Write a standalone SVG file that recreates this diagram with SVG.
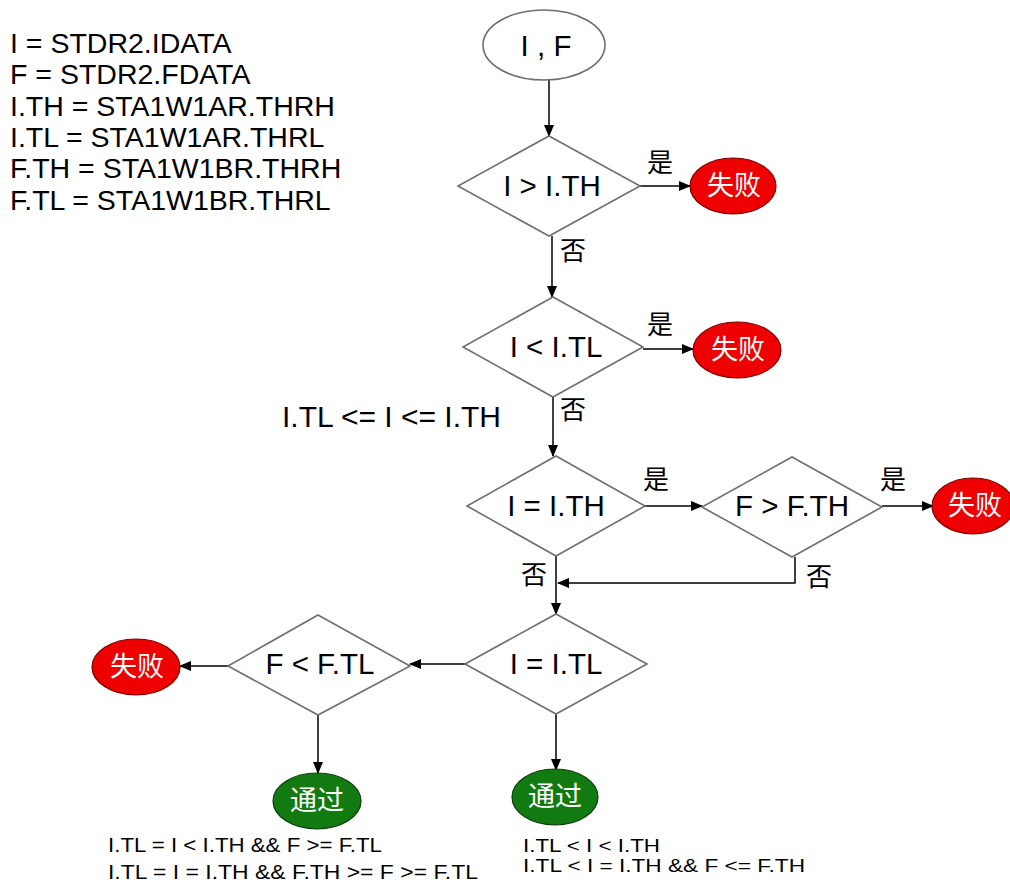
<svg xmlns="http://www.w3.org/2000/svg" width="1010" height="887" viewBox="0 0 1010 887">
<defs>
<marker id="ah" markerWidth="12" markerHeight="10" refX="11" refY="5" orient="auto" markerUnits="userSpaceOnUse">
<path d="M0,0 L12,5 L0,10 Z" fill="#000"/>
</marker>
<style>
.t{font-family:"Liberation Sans",Arial,"Noto Sans CJK SC",sans-serif;fill:#000}
.lbl{font-size:28.5px}
.dt{font-size:29.5px;text-anchor:middle}
.cj{font-family:"Noto Sans CJK SC",sans-serif;font-size:26px;fill:#000}
.wt{font-family:"Noto Sans CJK SC",sans-serif;font-size:27px;fill:#fff;text-anchor:middle}
.dia{fill:#fff;stroke:#6e6e6e;stroke-width:1.6}
.fail{fill:#ee0000;stroke:#7a0000;stroke-width:1.2}
.pass{fill:#117a11;stroke:#0a3d0a;stroke-width:1.2}
.ln{fill:none;stroke:#000;stroke-width:1.5}
.sm{font-size:20px}
.sm2{font-size:18.5px}
</style>
</defs>
<rect width="1010" height="887" fill="#fff"/>

<g id="legend">
<text class="t lbl" x="10" y="53">I = STDR2.IDATA</text>
<text class="t lbl" x="10" y="84">F = STDR2.FDATA</text>
<text class="t lbl" x="10" y="116">I.TH = STA1W1AR.THRH</text>
<text class="t lbl" x="10" y="147">I.TL = STA1W1AR.THRL</text>
<text class="t lbl" x="10" y="178">F.TH = STA1W1BR.THRH</text>
<text class="t lbl" x="10" y="210">F.TL = STA1W1BR.THRL</text>
</g>

<g id="connectors">
<line class="ln" x1="549" y1="80" x2="549" y2="136" marker-end="url(#ah)"/>
<line class="ln" x1="640" y1="186" x2="690" y2="186" marker-end="url(#ah)"/>
<line class="ln" x1="552" y1="236" x2="552" y2="297" marker-end="url(#ah)"/>
<line class="ln" x1="643" y1="349" x2="693" y2="349" marker-end="url(#ah)"/>
<line class="ln" x1="553" y1="397" x2="553" y2="456" marker-end="url(#ah)"/>
<line class="ln" x1="645" y1="506" x2="702" y2="506" marker-end="url(#ah)"/>
<line class="ln" x1="882" y1="506" x2="933" y2="506" marker-end="url(#ah)"/>
<polyline class="ln" points="795,557 795,583 558,583" marker-end="url(#ah)"/>
<line class="ln" x1="556" y1="556" x2="556" y2="614" marker-end="url(#ah)"/>
<line class="ln" x1="465" y1="664" x2="410" y2="664" marker-end="url(#ah)"/>
<line class="ln" x1="228" y1="666" x2="180" y2="666" marker-end="url(#ah)"/>
<line class="ln" x1="318" y1="715" x2="318" y2="773" marker-end="url(#ah)"/>
<line class="ln" x1="556" y1="713" x2="556" y2="770" marker-end="url(#ah)"/>
<text class="cj" x="647" y="172">是</text>
<text class="cj" x="560" y="260">否</text>
<text class="cj" x="647" y="334">是</text>
<text class="cj" x="560" y="419">否</text>
<text class="cj" x="643" y="489">是</text>
<text class="cj" x="880" y="489">是</text>
<text class="cj" x="521" y="584">否</text>
<text class="cj" x="806" y="586">否</text>
</g>

<g id="start">
<ellipse cx="544" cy="45" rx="61" ry="35" fill="#fff" stroke="#6e6e6e" stroke-width="1.6"/>
<text class="t dt" x="546" y="56">I , F</text>
</g>

<g id="d1">
<polygon class="dia" points="549,136 640,186 549,236 458,186"/>
<text class="t dt" x="552" y="196">I &gt; I.TH</text>
</g>
<g id="f1">
<ellipse class="fail" cx="733" cy="186" rx="43" ry="28"/>
<text class="wt" x="734" y="195">失败</text>
</g>

<g id="d2">
<polygon class="dia" points="553,297 643,347 553,397 463,347"/>
<text class="t dt" x="556" y="357">I &lt; I.TL</text>
</g>
<g id="f2">
<ellipse class="fail" cx="737" cy="350" rx="44" ry="28"/>
<text class="wt" x="738" y="359">失败</text>
</g>

<g id="note1">
<text class="t" x="282" y="427" font-size="30">I.TL &lt;= I &lt;= I.TH</text>
</g>

<g id="d3">
<polygon class="dia" points="556,456 645,506 556,556 467,506"/>
<text class="t dt" x="556" y="516">I = I.TH</text>
</g>
<g id="d4">
<polygon class="dia" points="792,457 882,507 792,557 702,507"/>
<text class="t dt" x="792" y="516">F &gt; F.TH</text>
</g>
<g id="f3">
<ellipse class="fail" cx="973" cy="506" rx="41" ry="28"/>
<text class="wt" x="975" y="515">失败</text>
</g>

<g id="d5">
<polygon class="dia" points="556,614 647,664 556,714 465,664"/>
<text class="t dt" x="556" y="674">I = I.TL</text>
</g>
<g id="d6">
<polygon class="dia" points="318,615 410,666 318,715 228,666"/>
<text class="t dt" x="320" y="674">F &lt; F.TL</text>
</g>
<g id="f4">
<ellipse class="fail" cx="136" cy="667" rx="44" ry="28"/>
<text class="wt" x="137" y="676">失败</text>
</g>

<g id="p1">
<ellipse class="pass" cx="317" cy="801" rx="44" ry="28"/>
<text class="wt" x="317" y="810">通过</text>
</g>
<g id="p2">
<ellipse class="pass" cx="555" cy="797" rx="43" ry="28"/>
<text class="wt" x="555" y="806">通过</text>
</g>

<g id="notes">
<text class="t sm" x="108" y="852" textLength="274" lengthAdjust="spacingAndGlyphs">I.TL = I &lt; I.TH &amp;&amp; F &gt;= F.TL</text>
<text class="t sm" x="108" y="879" textLength="370" lengthAdjust="spacingAndGlyphs">I.TL = I = I.TH &amp;&amp; F.TH &gt;= F &gt;= F.TL</text>
<text class="t sm2" x="523" y="852" textLength="137" lengthAdjust="spacingAndGlyphs">I.TL &lt; I &lt; I.TH</text>
<text class="t sm2" x="523" y="872" textLength="282" lengthAdjust="spacingAndGlyphs">I.TL &lt; I = I.TH &amp;&amp; F &lt;= F.TH</text>
</g>
</svg>
